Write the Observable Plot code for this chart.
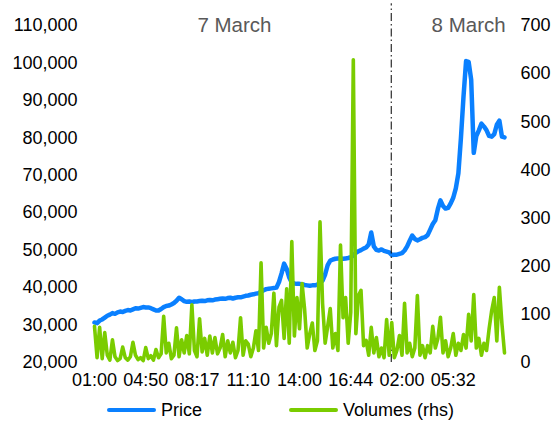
<!DOCTYPE html>
<html>
<head>
<meta charset="utf-8">
<script src="https://cdn.jsdelivr.net/npm/d3@7"></script>
<script src="https://cdn.jsdelivr.net/npm/@observablehq/plot@0.6"></script>
<style>
  html, body { margin: 0; padding: 0; background: #fff; }
  #wrap { position: relative; width: 553px; height: 423px; font-family: "Liberation Sans", Arial, sans-serif; }
  #wrap svg { overflow: visible; display: block; }
  .leg { position: absolute; top: 398px; height: 24px; display: flex; align-items: center; font-size: 18px; color: #000; }
  .leg .sw { display: inline-block; width: 49px; height: 4px; border-radius: 2px; margin-right: 5px; }
</style>
</head>
<body>
<div id="wrap"></div>
<script>
// ---- data ----
const timeLabels = ["01:00","04:50","08:17","11:10","14:00","16:44","02:00","05:32"];
const labelEvery = 20;
const dayLabels = ["7 March", "8 March"];
const priceTicks = [20000,30000,40000,50000,60000,70000,80000,90000,100000,110000];
const volumeTicks = [0,100,200,300,400,500,600,700];

const price = [
30700,30500,31200,31500,32000,32500,32800,33200,33000,33400,
33600,33500,33800,34000,33900,34200,34500,34400,34600,34800,
34700,34700,34500,34200,33900,33900,34300,34800,35100,35200,
35500,35900,36500,37300,36900,36400,36200,36300,36100,36300,
36300,36400,36500,36400,36600,36700,36600,36800,36900,37000,
37100,37000,37200,37300,37100,37300,37400,37400,37600,37800,
37900,38100,38200,38400,38500,38900,39300,39600,39700,39800,
39900,40000,41500,43800,46400,45000,42700,41300,41100,41000,
41000,40900,40700,40600,40500,40600,40600,40800,41300,41900,
43500,46000,47200,47500,47700,47800,47800,47700,47800,47900,
48100,48600,49300,49700,50000,50400,50700,51500,54700,51000,
50100,49900,50200,49800,49600,49400,48700,48800,48800,49000,
49200,49900,51000,52500,53900,53000,52600,52900,53300,53500,
54000,55500,57000,58000,61000,63300,61800,61100,61300,62500,
64000,66500,70500,80000,91000,100500,100300,95500,76000,80500,
82000,83800,83000,82000,80500,80300,81000,83500,84600,80300,
80100
];

const volume = [
75,10,73,8,62,15,5,47,12,4,
8,32,10,5,12,42,15,6,10,4,
31,8,14,5,27,10,18,96,20,40,
8,15,72,12,47,20,56,18,120,25,
12,91,22,50,15,55,20,52,18,30,
58,12,45,20,42,10,25,93,15,45,
38,12,30,66,25,207,30,73,40,60,
144,35,115,129,50,153,40,251,55,135,
70,164,110,30,60,82,25,45,292,123,
40,75,112,30,60,25,244,93,135,40,
104,629,60,139,150,35,46,15,73,20,
52,12,30,10,89,15,83,10,25,56,
15,123,20,40,12,30,139,15,35,10,
35,20,75,30,50,94,20,45,12,30,
60,15,40,25,58,30,100,45,141,30,
50,15,40,25,70,108,135,45,156,80,
20
];

// ---- chart ----
const blue = "#0a80ff";
const green = "#7acc00";
const v2p = d3.scaleLinear([0, 700], [20000, 110000]);
const idx = price.map((_, i) => i);

const chart = Plot.plot({
  width: 553,
  height: 395,
  marginTop: 25,
  marginBottom: 33,
  marginLeft: 94,
  marginRight: 49,
  style: { fontFamily: "'Liberation Sans', Arial, sans-serif", fontSize: "18px", color: "#000", background: "transparent" },
  x: { domain: [0, price.length - 1] },
  y: { domain: [20000, 110000] },
  marks: [
    Plot.axisX({ ticks: timeLabels.map((_, k) => k * labelEvery), tickFormat: i => timeLabels[Math.round(i / labelEvery)], tickSize: 0, tickPadding: 11, label: null, fontSize: 18 }),
    Plot.axisY({ anchor: "left", ticks: priceTicks, tickFormat: d3.format(","), tickSize: 0, tickPadding: 17, label: null, fontSize: 18 }),
    Plot.axisY({ anchor: "right", ticks: volumeTicks.map(v2p), tickFormat: d => String(Math.round(v2p.invert(d))), tickSize: 0, tickPadding: 16, label: null, fontSize: 18 }),
    Plot.line(idx, { x: i => i, y: i => price[i], stroke: blue, strokeWidth: 4.5, strokeLinejoin: "round", strokeLinecap: "round" }),
    Plot.ruleX([115.8], { y1: 20000, y2: 115800, stroke: "#000", strokeWidth: 1, strokeDasharray: "8,3,1.5,3" }),
    Plot.line(idx, { x: i => i, y: i => v2p(volume[i]), stroke: green, strokeWidth: 3.6, strokeLinejoin: "round", strokeLinecap: "round" }),
    Plot.text(dayLabels, { x: [54.6, 146], y: [110000, 110000], text: d => d, fill: "#595959", fontSize: 20.5, textAnchor: "middle", lineAnchor: "middle" })
  ]
});

const wrap = document.getElementById("wrap");
wrap.appendChild(chart);

function legendItem(left, color, label) {
  const d = document.createElement("div");
  d.className = "leg";
  d.style.left = left + "px";
  const sw = document.createElement("span");
  sw.className = "sw";
  sw.style.background = color;
  d.appendChild(sw);
  d.appendChild(document.createTextNode(label));
  wrap.appendChild(d);
}
legendItem(107, blue, "Price");
legendItem(289, green, "Volumes (rhs)");
</script>
</body>
</html>
